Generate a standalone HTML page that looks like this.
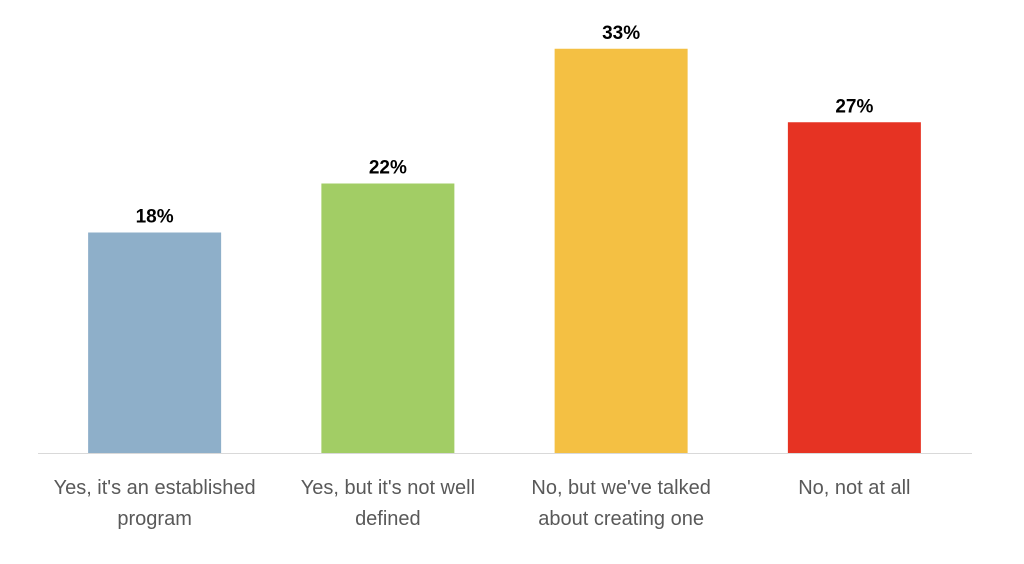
<!DOCTYPE html>
<html><head><meta charset="utf-8"><style>
body{margin:0;background:#fff;}
svg{display:block;font-family:"Liberation Sans",sans-serif;}
</style></head><body>
<svg id="chart" width="1024" height="564">
<line x1="38" y1="453.5" x2="972" y2="453.5" stroke="#d9d9d9" stroke-width="1"/>
</svg>
<script>
const categories=[["Yes, it's an established","program"],["Yes, but it's not well","defined"],["No, but we've talked","about creating one"],["No, not at all"]];
const values=[18,22,33,27];
const valueLabels=["18%","22%","33%","27%"];
const colors=["#8eafc9","#a2cd65","#f4c043","#e63323"];
const svg=document.getElementById('chart');
const NS="http://www.w3.org/2000/svg";
const x0=38,x1=971,baseY=453,pxPer=12.25,barW=133;
const step=(x1-x0)/categories.length;
function xc(i){return x0+step*(i+0.5);}
function y(v){return baseY-v*pxPer;}
values.forEach((v,i)=>{
  const r=document.createElementNS(NS,'rect');
  r.setAttribute('x',xc(i)-barW/2);r.setAttribute('y',y(v));
  r.setAttribute('width',barW);r.setAttribute('height',baseY-y(v));
  r.setAttribute('fill',colors[i]);
  
  
  svg.appendChild(r);
  const t=document.createElementNS(NS,'text');
  t.setAttribute('x',xc(i));t.setAttribute('y',y(v)-10);
  t.setAttribute('text-anchor','middle');t.setAttribute('font-size','19');
  t.setAttribute('font-weight','bold');t.setAttribute('fill','#000');
  t.textContent=valueLabels[i];
  
  
  svg.appendChild(t);
  categories[i].forEach((line,j)=>{
    const c=document.createElementNS(NS,'text');
    c.setAttribute('x',xc(i));c.setAttribute('y',494+j*31);
    c.setAttribute('text-anchor','middle');c.setAttribute('font-size','20');
    c.setAttribute('fill','#595959');
    c.textContent=line;
    
    
    svg.appendChild(c);
  });
});
</script>
</body></html>
